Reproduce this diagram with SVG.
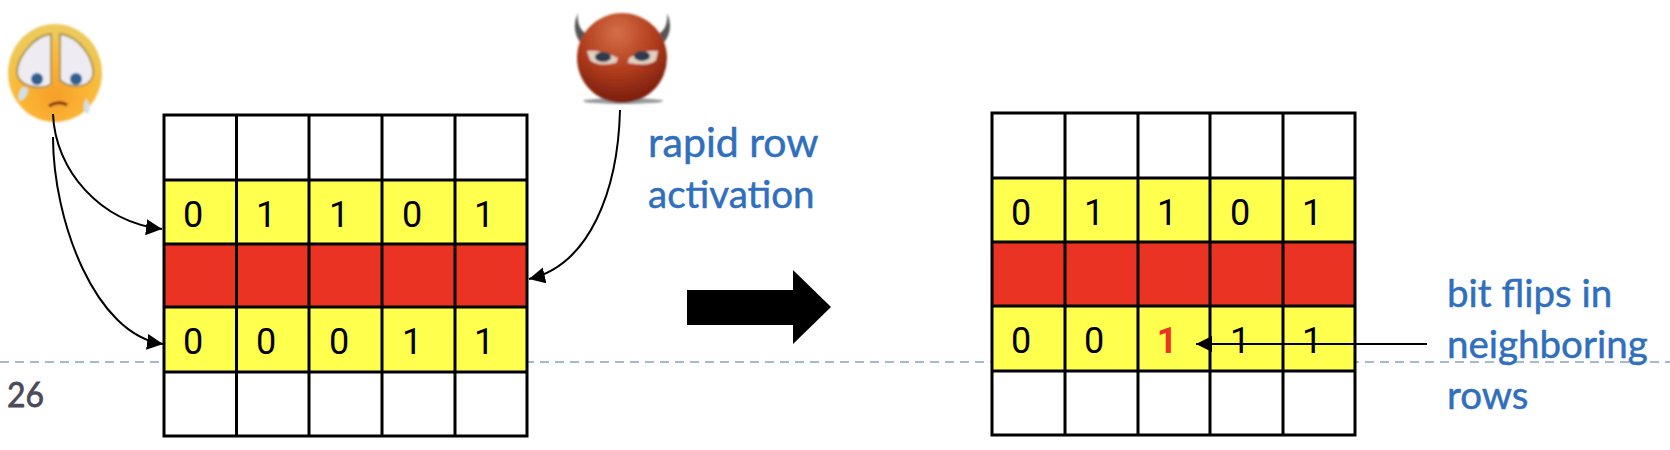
<svg xmlns="http://www.w3.org/2000/svg" width="1670" height="450" viewBox="0 0 1670 450">
<style>
.g{stroke:#000;stroke-width:3;fill:none}
.d{font:36px Roboto,"Liberation Sans",Arial,sans-serif;text-anchor:middle;fill:#000}
.b{font:38.500px Lato,"Noto Sans",sans-serif;fill:#2f6fbd;stroke:#2f6fbd;stroke-width:.5}
.c{fill:none;stroke:#000;stroke-width:2;marker-end:url(#ah)}
</style>
<defs>
<marker id="ah" markerUnits="userSpaceOnUse" markerWidth="18" markerHeight="18" refX="16" refY="8" orient="auto"><path d="M0 0L16 8L0 16Z" fill="#000"/></marker>
<radialGradient id="sad" cx="50%" cy="72%" r="62%"><stop offset="0" stop-color="#f79f2a"/><stop offset=".65" stop-color="#fbb935"/><stop offset="1" stop-color="#ecc95a"/></radialGradient>
<radialGradient id="red" cx="45%" cy="22%" r="85%"><stop offset="0" stop-color="#d56f48"/><stop offset=".5" stop-color="#b03c1c"/><stop offset="1" stop-color="#6f170a"/></radialGradient>
<filter id="bl"><feGaussianBlur stdDeviation="1"/></filter>
</defs>
<g id="footer"><path d="M0 362H1670" stroke="#a5b8cf" stroke-width="2" stroke-dasharray="9 6"/><text x="7" y="407" font-family="Lato,'Noto Sans',sans-serif" font-size="35" stroke="#4a4a5a" stroke-width=".8" fill="#4a4a5a" textLength="37" lengthAdjust="spacingAndGlyphs">26</text></g>
<g id="grid-left">
<rect x="164" y="115" width="363" height="65" fill="#fff"/><rect x="164" y="180" width="363" height="64" fill="#ffff4d"/><rect x="164" y="244" width="363" height="63" fill="#ea3323"/><rect x="164" y="307" width="363" height="65" fill="#ffff4d"/><rect x="164" y="372" width="363" height="64" fill="#fff"/>
<path class="g" d="M164 115H527V436H164ZM164 180H527M164 244H527M164 307H527M164 372H527M236.500 115V436M309 115V436M382 115V436M455 115V436"/>
<text x="193" y="227" class="d">0</text><text x="266" y="227" class="d">1</text><text x="339" y="227" class="d">1</text><text x="412" y="227" class="d">0</text><text x="484" y="227" class="d">1</text><text x="193" y="354" class="d">0</text><text x="266" y="354" class="d">0</text><text x="339" y="354" class="d">0</text><text x="412" y="354" class="d">1</text><text x="484" y="354" class="d">1</text>
</g>
<g id="grid-right">
<rect x="992" y="113" width="363" height="65" fill="#fff"/><rect x="992" y="178" width="363" height="64" fill="#ffff4d"/><rect x="992" y="242" width="363" height="64" fill="#ea3323"/><rect x="992" y="306" width="363" height="65" fill="#ffff4d"/><rect x="992" y="371" width="363" height="64" fill="#fff"/>
<path class="g" d="M992 113H1355V435H992ZM992 178H1355M992 242H1355M992 306H1355M992 371H1355M1065 113V435M1138 113V435M1210 113V435M1283 113V435"/>
<text x="1021" y="225" class="d">0</text><text x="1094" y="225" class="d">1</text><text x="1167" y="225" class="d">1</text><text x="1240" y="225" class="d">0</text><text x="1312" y="225" class="d">1</text><text x="1021" y="353" class="d">0</text><text x="1094" y="353" class="d">0</text><text x="1167" y="353" class="d" style="font-weight:700;fill:#ea3323">1</text><text x="1240" y="353" class="d">1</text><text x="1312" y="353" class="d">1</text>
</g>
<g id="sad-face" filter="url(#bl)">
<ellipse cx="55" cy="73" rx="47" ry="49" fill="url(#sad)"/>
<path d="M51 34C32 36 16 60 17 74C20 88 42 90 51 84Z" fill="#eeecf2" stroke="#a8924f" stroke-width="2"/><path d="M60 34C80 36 95 60 93 76C88 90 68 88 60 80Z" fill="#eeecf2" stroke="#a8924f" stroke-width="2"/>
<circle cx="37" cy="79" r="6" fill="#2f5f8f"/><circle cx="76" cy="79" r="6" fill="#2f5f8f"/>
<path d="M49 106Q58 100 67 105" stroke="#7a2a10" stroke-width="3" fill="none"/>
<path d="M22 87Q16 98 20 101Q28 98 28 88Z" fill="#cfe3ea"/><path d="M86 98Q81 110 87 114Q93 110 86 98Z" fill="#cfe3ea"/>
</g>
<g id="devil-face" filter="url(#bl)">
<path d="M578 13Q576 30 590 36L582 45Q570 30 578 13Z" fill="#555"/><path d="M667 13Q669 30 655 36L662 45Q675 30 667 13Z" fill="#555"/>
<ellipse cx="623" cy="101" rx="40" ry="3" fill="#999"/>
<circle cx="622" cy="58" r="45" fill="url(#red)"/>
<path d="M587 51Q600 49 618 58L616 63Q597 67 590 60Z" fill="#e3cfc0"/><path d="M658 51Q645 49 629 58L628 63Q650 67 656 60Z" fill="#e3cfc0"/>
<ellipse cx="603" cy="57" rx="8" ry="5" fill="#2d3a50"/><ellipse cx="642" cy="56" rx="8" ry="5" fill="#2d3a50"/>
</g>
<g id="connectors">
<path class="c" d="M53 114C55 170 100 222 162 229"/>
<path class="c" d="M53 137C53 220 95 335 163 344"/>
<path class="c" d="M620 110C618 190 590 265 529 279"/>
<path class="c" d="M1427 344H1196"/>
<path d="M687 290H793V270L831 307L793 344V325H687Z" fill="#000"/>
</g>
<g id="labels">
<text class="b" x="648" y="157" style="font-size:41px">rapid row</text><text class="b" x="648" y="208">activation</text>
<text class="b" x="1447" y="307">bit flips in</text><text class="b" x="1447" y="358">neighboring</text><text class="b" x="1447" y="409">rows</text>
</g>
</svg>
